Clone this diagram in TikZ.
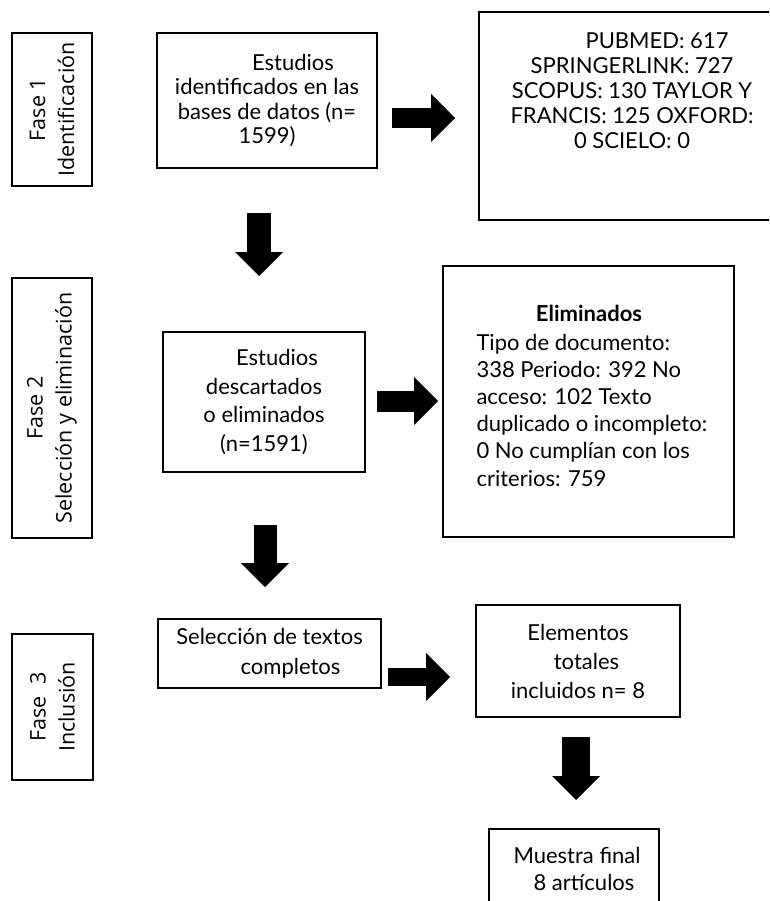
\documentclass[tikz,border=0pt]{standalone}
\usepackage{fontspec}
\setmainfont{Lato}
\newfontfamily\fasefont{Open Sans}
\usetikzlibrary{positioning, arrows.meta}

\begin{document}
\begin{tikzpicture}[
  x=1pt, y=-1pt,
  every node/.style={font=\fontsize{22}{24.5}\selectfont},
  box/.style={draw, rectangle, line width=1.3pt, inner sep=0pt},
  fase/.style={box, rotate=90, align=center, font=\fasefont\fontsize{21.5}{29}\selectfont},
  bigarrow/.style={line width=#1, -{Triangle[length=24pt, width=48pt, line width=0pt]}}
]
\useasboundingbox (0,0) rectangle (769,901);
\clip (0,0) rectangle (769,901);

% Phase labels
\node[fase, minimum width=153, minimum height=80] (fase1) at (52,109.5) {Fase 1\\Identificación};
\node[fase, minimum width=260, minimum height=80] (fase2) at (52,408) {Fase 2\\Selección y eliminación};
\node[fase, minimum width=146, minimum height=81] (fase3) at (52.5,707) {Fase~~3\\Inclusión};

% Phase 1
\node[box, align=center, minimum width=220, minimum height=135] (ident) at (267,100.5)
  {\hspace*{52pt}Estudios\\identificados en las\\bases de datos (n=\\1599)};
\node[box, minimum width=311, minimum height=208] (bases) at (634.5,116) {};
\node[align=center, font=\fontsize{22}{25}\selectfont] (basestxt) at (632,91)
  {\hspace*{50pt}PUBMED: 617\\SPRINGERLINK: 727\\SCOPUS: 130 TAYLOR Y\\FRANCIS: 125 OXFORD:\\0 SCIELO: 0};
\coordinate (a1s) at (392,118);
\coordinate (a1e) at (455,118);
\draw[bigarrow=20pt] (a1s) -- (a1e);

\coordinate (a2s) at (259,213);
\coordinate (a2e) at (259,276);
\draw[bigarrow=24pt] (a2s) -- (a2e);

% Phase 2
\node[box, align=center, font=\fontsize{22}{28.7}\selectfont, minimum width=202, minimum height=140] (descart) at (264,402)
  {\hspace*{26pt}Estudios\\descartados\\o eliminados\\(n=1591)};
\node[box, minimum width=291, minimum height=271] (elim) at (588.5,401.5) {};
\node[font=\bfseries\fontsize{22}{24}\selectfont] (elimtit) at (589,313) {Eliminados};
\node[align=left, anchor=west, font=\fontsize{22}{27.2}\selectfont] (elimtxt) at (473,410)
  {Tipo de documento:\\338 Periodo: 392 No\\acceso: 102 Texto\\duplicado o incompleto:\\0 No cumplían con los\\criterios: 759};
\coordinate (a3s) at (377,401);
\coordinate (a3e) at (438,401);
\draw[bigarrow=21pt] (a3s) -- (a3e);

\coordinate (a4s) at (265,525);
\coordinate (a4e) at (265,587);
\draw[bigarrow=23pt] (a4s) -- (a4e);

% Phase 3
\node[box, align=center, font=\fontsize{22}{30}\selectfont, minimum width=223, minimum height=69] (selec) at (269.5,653.5)
  {Selección de textos\\\hspace*{42pt}completos};
\node[box, align=center, font=\fontsize{22}{29}\selectfont, minimum width=204, minimum height=112] (elem) at (578,661)
  {Elementos\\\hspace*{17pt}totales\\incluidos n= 8};
\coordinate (a5s) at (388,677);
\coordinate (a5e) at (450,677);
\draw[bigarrow=18pt] (a5s) -- (a5e);

\coordinate (a6s) at (576,737);
\coordinate (a6e) at (576,800);
\draw[bigarrow=28pt] (a6s) -- (a6e);

\node[box, minimum width=170, minimum height=100] (muestra) at (574,879) {};
\node[align=center, font=\fontsize{22}{27}\selectfont] (muestratxt) at (577,869)
  {Muestra final\\\hspace*{14pt}8 artículos};

\end{tikzpicture}
\end{document}
